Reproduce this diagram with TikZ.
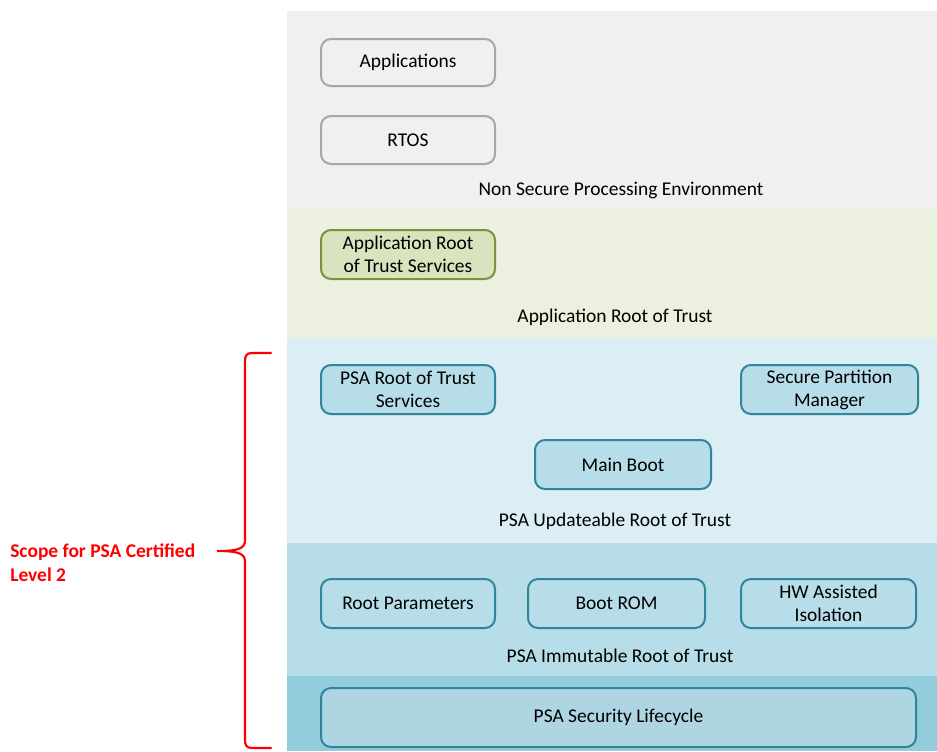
\documentclass[tikz,border=0pt]{standalone}
\usepackage{fontspec}
\setmainfont{Carlito}
\definecolor{nsbg}{HTML}{F0F0F0}
\definecolor{appbg}{HTML}{EBF1DE}
\definecolor{updbg}{HTML}{DAEEF3}
\definecolor{immbg}{HTML}{B7DEE8}
\definecolor{lifebg}{HTML}{93CDDC}
\definecolor{graybd}{HTML}{A6A6A6}
\definecolor{greenbd}{HTML}{77933C}
\definecolor{greenfill}{HTML}{D7E4BD}
\definecolor{tealbd}{HTML}{31849B}
\definecolor{tealfill}{HTML}{B7DEE8}
\definecolor{lifefill}{HTML}{AED5E2}
\definecolor{scopered}{HTML}{FF0000}
\begin{document}
\begin{tikzpicture}[x=0.75pt,y=-0.75pt,
  every node/.style={font=\fontsize{14.6}{17.3}\selectfont, text=black, inner sep=0pt},
  box/.style={rounded corners=7.5pt, line width=1.5pt, align=center, anchor=north west},
  graybox/.style={box, draw=graybd, fill=nsbg},
  greenbox/.style={box, draw=greenbd, fill=greenfill},
  tealbox/.style={box, draw=tealbd, fill=tealfill},
  lifebox/.style={box, draw=tealbd, fill=lifefill},
  bandlabel/.style={anchor=center},
  scopetext/.style={text=scopered, font=\fontsize{14.6}{18}\selectfont\bfseries, align=left, anchor=west}
]
\useasboundingbox (0,0) rectangle (937,751);
% bands
\fill[nsbg] (287,11) rectangle (937,209);
\fill[appbg] (287,209) rectangle (937,338);
\fill[updbg] (287,338) rectangle (937,543);
\fill[immbg] (287,543) rectangle (937,676);
\fill[lifebg] (287,676) rectangle (937,751);
% boxes
\node[graybox, minimum width=174*0.75pt, minimum height=47*0.75pt] (apps) at (320,38) {Applications};
\node[graybox, minimum width=174*0.75pt, minimum height=48*0.75pt] (rtos) at (320,115) {RTOS};
\node[bandlabel] (nspe) at (621,190.5) {Non Secure Processing Environment};
\node[greenbox, minimum width=174*0.75pt, minimum height=49*0.75pt] (arots) at (320,229) {Application Root\\of Trust Services};
\node[bandlabel] (arot) at (615,317.5) {Application Root of Trust};
\node[tealbox, minimum width=174*0.75pt, minimum height=49*0.75pt] (prots) at (320,364) {PSA Root of Trust\\Services};
\node[tealbox, minimum width=177*0.75pt, minimum height=49*0.75pt] (spm) at (740,364) {Secure Partition\\Manager};
\node[tealbox, minimum width=176*0.75pt, minimum height=49*0.75pt] (mboot) at (534,439) {Main Boot};
\node[bandlabel] (uprot) at (615,521.5) {PSA Updateable Root of Trust};
\node[tealbox, minimum width=174*0.75pt, minimum height=49*0.75pt] (rparam) at (320,578) {Root Parameters};
\node[tealbox, minimum width=177*0.75pt, minimum height=49*0.75pt] (brom) at (527,578) {Boot ROM};
\node[tealbox, minimum width=175*0.75pt, minimum height=49*0.75pt] (hwiso) at (740,578) {HW Assisted\\Isolation};
\node[bandlabel] (imrot) at (620,656) {PSA Immutable Root of Trust};
\node[lifebox, minimum width=595*0.75pt, minimum height=59*0.75pt] (life) at (320,687) {PSA Security Lifecycle};
% scope brace
\coordinate (btop) at (271,353);
\coordinate (btip) at (217,551);
\coordinate (bbot) at (271,748);
\draw[scopered, line width=1.6pt, line cap=round]
  (btop) -- (252,353) .. controls (246,353) and (245,356) .. (245,362)
  -- (245,540) .. controls (245,548) and (240,551) .. (btip)
  .. controls (240,551) and (245,554) .. (245,562)
  -- (245,739) .. controls (245,745) and (246,748) .. (252,748) -- (bbot);
\node[scopetext] (scope) at (10,563) {Scope for PSA Certified\\Level 2};
\end{tikzpicture}
\end{document}
